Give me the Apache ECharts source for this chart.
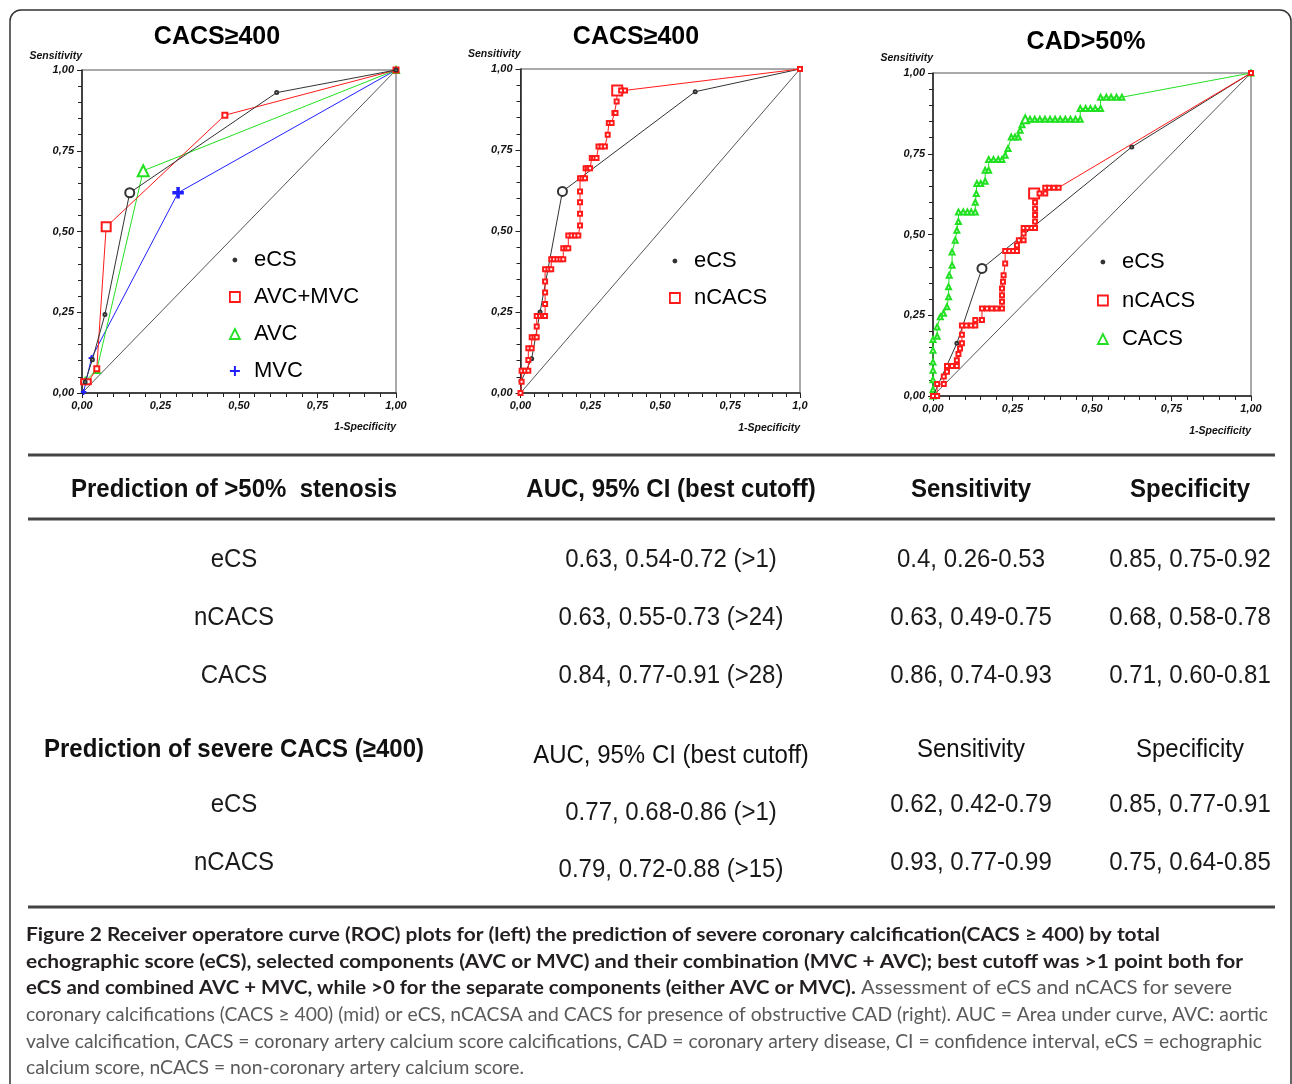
<!DOCTYPE html>
<html>
<head>
<meta charset="utf-8">
<title>ROC curves</title>
<script src="https://cdn.jsdelivr.net/npm/echarts@6.0.0/dist/echarts.min.js"></script>
<style>html,body{margin:0;padding:0;background:#fff;}#chart{width:1292px;height:1084px;}</style>
</head>
<body>
<div id="chart"></div>
<script>
// ---------------- data ----------------
const chartTitles = ['CACS≥400', 'CACS≥400', 'CAD>50%'];
const yAxisName = 'Sensitivity';
const xAxisName = '1-Specificity';
const tickLabels = ['0,00', '0,25', '0,50', '0,75', '1,00'];
const tickLabelsMidX = ['0,00', '0,25', '0,50', '0,75', '1,0'];
const diagonal = [[0, 0], [1, 1]];

// Left panel: severe CACS (>=400)
const leftECS = [[0.01, 0.034], [0.033, 0.103], [0.073, 0.243], [0.152, 0.62], [0.62, 0.93], [1, 1]];
const leftECSBest = 3;
const leftAVCMVC = [[0.005, 0.035], [0.02, 0.035], [0.047, 0.075], [0.077, 0.515], [0.1, 0.535], [0.455, 0.86], [1, 1]];
const leftAVCMVCBest = 3;
const leftAVCMVCBend = 4; // bend point drawn without a marker
const leftAVC = [[0.01, 0.037], [0.047, 0.071], [0.195, 0.688], [1, 1]];
const leftAVCBest = 2;
const leftMVC = [[0.005, 0.003], [0.03, 0.108], [0.306, 0.62], [1, 1]];
const leftMVCBest = 2;

// Middle panel: severe CACS (>=400)
const midECS = [[0.002, 0.036], [0.04, 0.106], [0.07, 0.25], [0.15, 0.622], [0.625, 0.93], [1, 1]];
const midECSBest = 3;
const midNCACS = [[0, 0], [0.004, 0.035], [0.004, 0.069], [0.016, 0.069], [0.028, 0.069], [0.028, 0.102],
  [0.028, 0.138], [0.04, 0.138], [0.04, 0.172], [0.05, 0.172], [0.058, 0.172], [0.058, 0.205], [0.058, 0.238],
  [0.07, 0.238], [0.08, 0.238], [0.088, 0.238], [0.088, 0.275], [0.088, 0.31], [0.088, 0.344], [0.088, 0.382],
  [0.1, 0.382], [0.11, 0.382], [0.11, 0.413], [0.12, 0.413], [0.132, 0.413], [0.143, 0.413], [0.153, 0.413],
  [0.153, 0.447], [0.163, 0.447], [0.171, 0.447], [0.171, 0.486], [0.183, 0.486], [0.195, 0.486], [0.207, 0.486],
  [0.213, 0.517], [0.213, 0.553], [0.213, 0.589], [0.213, 0.622], [0.213, 0.663], [0.222, 0.663], [0.231, 0.663],
  [0.233, 0.694], [0.241, 0.694], [0.249, 0.694], [0.255, 0.725], [0.263, 0.725], [0.272, 0.725], [0.279, 0.761],
  [0.29, 0.761], [0.302, 0.761], [0.312, 0.797], [0.316, 0.833], [0.326, 0.833], [0.336, 0.864], [0.34, 0.864],
  [0.344, 0.9], [0.346, 0.934], [0.36, 0.934], [0.374, 0.934], [1, 1]];
const midNCACSBest = 56;

// Right panel: CAD > 50%
const rightECS = [[0, 0], [0.075, 0.163], [0.154, 0.395], [0.625, 0.771], [1, 1]];
const rightECSBest = 2;
const rightNCACS = [[0, 0], [0.013, 0], [0.013, 0.037], [0.034, 0.037], [0.034, 0.06], [0.044, 0.075],
  [0.044, 0.093], [0.06, 0.093], [0.075, 0.093], [0.075, 0.111], [0.08, 0.13], [0.085, 0.147], [0.091, 0.163],
  [0.091, 0.19], [0.091, 0.218], [0.105, 0.218], [0.12, 0.218], [0.133, 0.218], [0.133, 0.235], [0.154, 0.235],
  [0.154, 0.271], [0.17, 0.271], [0.185, 0.271], [0.2, 0.271], [0.217, 0.271], [0.217, 0.292], [0.217, 0.312],
  [0.217, 0.333], [0.22, 0.354], [0.222, 0.374], [0.227, 0.41], [0.227, 0.449], [0.24, 0.449], [0.252, 0.449],
  [0.264, 0.449], [0.264, 0.467], [0.27, 0.482], [0.285, 0.482], [0.285, 0.503], [0.285, 0.52], [0.297, 0.52],
  [0.31, 0.52], [0.321, 0.52], [0.321, 0.54], [0.321, 0.56], [0.321, 0.58], [0.321, 0.6], [0.318, 0.627],
  [0.335, 0.627], [0.353, 0.627], [0.353, 0.645], [0.365, 0.645], [0.38, 0.645], [0.395, 0.645], [1, 1]];
const rightNCACSBest = 47;
const rightCACS = [[0, 0], [0, 0.02], [0, 0.05], [0, 0.08], [0, 0.105], [0, 0.142], [0, 0.175], [0.013, 0.185],
  [0.013, 0.214], [0.023, 0.245], [0.033, 0.256], [0.044, 0.276], [0.049, 0.307], [0.049, 0.338], [0.051, 0.374],
  [0.06, 0.405], [0.06, 0.446], [0.07, 0.482], [0.075, 0.513], [0.08, 0.54], [0.08, 0.57], [0.095, 0.57],
  [0.108, 0.57], [0.12, 0.57], [0.133, 0.57], [0.133, 0.6], [0.136, 0.627], [0.138, 0.658], [0.15, 0.658],
  [0.164, 0.665], [0.164, 0.699], [0.175, 0.699], [0.175, 0.732], [0.19, 0.732], [0.205, 0.732], [0.217, 0.732],
  [0.227, 0.745], [0.236, 0.766], [0.246, 0.802], [0.258, 0.802], [0.268, 0.802], [0.274, 0.823], [0.28, 0.84],
  [0.29, 0.857], [0.305, 0.857], [0.32, 0.857], [0.336, 0.857], [0.352, 0.857], [0.368, 0.857], [0.384, 0.857],
  [0.4, 0.857], [0.416, 0.857], [0.432, 0.857], [0.448, 0.857], [0.463, 0.857], [0.463, 0.89], [0.48, 0.89],
  [0.495, 0.89], [0.51, 0.89], [0.527, 0.89], [0.527, 0.925], [0.545, 0.925], [0.56, 0.925], [0.577, 0.925],
  [0.594, 0.925], [1, 1]];
const rightCACSBest = 43;

// Table
const tableHead1 = ['Prediction of >50%  stenosis', 'AUC, 95% CI (best cutoff)', 'Sensitivity', 'Specificity'];
const tableRows1 = [
  ['eCS', '0.63, 0.54-0.72 (>1)', '0.4, 0.26-0.53', '0.85, 0.75-0.92'],
  ['nCACS', '0.63, 0.55-0.73 (>24)', '0.63, 0.49-0.75', '0.68, 0.58-0.78'],
  ['CACS', '0.84, 0.77-0.91 (>28)', '0.86, 0.74-0.93', '0.71, 0.60-0.81']
];
const tableHead2 = ['Prediction of severe CACS (≥400)', 'AUC, 95% CI (best cutoff)', 'Sensitivity', 'Specificity'];
const tableRows2 = [
  ['eCS', '0.77, 0.68-0.86 (>1)', '0.62, 0.42-0.79', '0.85, 0.77-0.91'],
  ['nCACS', '0.79, 0.72-0.88 (>15)', '0.93, 0.77-0.99', '0.75, 0.64-0.85']
];

// Caption (segments: b = bold, r = regular)
const captionLines = [
  [['b', 'Figure 2 Receiver operatore curve (ROC) plots for (left) the prediction of severe coronary calcification(CACS ≥ 400) by total']],
  [['b', 'echographic score (eCS), selected components (AVC or MVC) and their combination (MVC + AVC); best cutoff was >1 point both for']],
  [['b', 'eCS and combined AVC + MVC, while >0 for the separate components (either AVC or MVC).'], ['r', ' Assessment of eCS and nCACS for severe']],
  [['r', 'coronary calcifications (CACS ≥ 400) (mid) or eCS, nCACSA and CACS for presence of obstructive CAD (right). AUC = Area under curve, AVC: aortic']],
  [['r', 'valve calcification, CACS = coronary artery calcium score calcifications, CAD = coronary artery disease, CI = confidence interval, eCS = echographic']],
  [['r', 'calcium score, nCACS = non-coronary artery calcium score.']]
];

// ---------------- layout / style ----------------
const grids = [
  { left: 82, top: 70, width: 314, height: 323 },
  { left: 520.5, top: 69, width: 279.5, height: 324 },
  { left: 933, top: 73, width: 318, height: 323 }
];
const C = {
  black: '#333333', red: '#ff1a1a', green: '#22e022', blue: '#2020ff', diag: '#555555'
};
const SYM_PLUS = 'path://M4,0H6V4H10V6H6V10H4V6H0V4H4Z';
const ICON = {
  dot: 'path://M0,0M10,10M2.5,5L3.2,3.2L5,2.5L6.8,3.2L7.5,5L6.8,6.8L5,7.5L3.2,6.8Z',
  square: 'path://M0,0H10V10H0Z',
  triangle: 'path://M5,0L10,10H0Z',
  plus: SYM_PLUS
};
const AX_FONT = 'Liberation Sans';

function axisCommon(labels, margin) {
  return {
    type: 'value', min: 0, max: 1, interval: 0.25,
    axisLine: { show: true, onZero: false, lineStyle: { color: '#222', width: 1.5 } },
    axisTick: { show: true, length: 5, lineStyle: { color: '#222', width: 1 } },
    minorTick: { show: true, splitNumber: 5, length: 4, lineStyle: { color: '#222', width: 1 } },
    splitLine: { show: false },
    minorSplitLine: { show: false },
    axisLabel: {
      margin: margin, fontSize: 11, fontStyle: 'italic', fontWeight: 'bold', fontFamily: AX_FONT, color: '#111',
      formatter: function (v) { return labels[Math.round(v * 4)]; }
    }
  };
}

function withBest(arr, best, bestSize, hidden) {
  return arr.map(function (p, i) {
    if (i === best) return { value: p, symbolSize: bestSize, itemStyle: { borderWidth: 1.5 } };
    if (i === hidden) return { value: p, symbol: 'none' };
    return p;
  });
}

function curve(name, gi, arr, best, color, symbol, size, bestSize, z, hidden) {
  return {
    type: 'line', name: name, xAxisIndex: gi, yAxisIndex: gi,
    data: withBest(arr, best, bestSize, hidden),
    symbol: symbol, symbolSize: size, showAllSymbol: true,
    lineStyle: { color: color, width: 1 },
    itemStyle: { color: color, borderColor: color, borderWidth: 1 },
    z: z, silent: true, animation: false
  };
}

function diagSeries(gi) {
  return {
    type: 'line', xAxisIndex: gi, yAxisIndex: gi, data: diagonal, symbol: 'none',
    lineStyle: { color: C.diag, width: 1 }, z: 1, silent: true, animation: false
  };
}

const series = [
  diagSeries(0),
  curve('MVC', 0, leftMVC, leftMVCBest, C.blue, SYM_PLUS, 5, 10, 3),
  curve('AVC', 0, leftAVC, leftAVCBest, C.green, 'emptyTriangle', 6, 11, 4),
  curve('AVC+MVC', 0, leftAVCMVC, leftAVCMVCBest, C.red, 'emptyRect', 5, 9, 5, leftAVCMVCBend),
  curve('eCS', 0, leftECS, leftECSBest, C.black, 'emptyCircle', 3, 9, 6),
  diagSeries(1),
  curve('eCS', 1, midECS, midECSBest, C.black, 'emptyCircle', 3, 9, 4),
  curve('nCACS', 1, midNCACS, midNCACSBest, C.red, 'emptyRect', 4, 10, 5),
  diagSeries(2),
  curve('eCS', 2, rightECS, rightECSBest, C.black, 'emptyCircle', 3, 9, 4),
  curve('nCACS', 2, rightNCACS, rightNCACSBest, C.red, 'emptyRect', 4, 10, 5),
  curve('CACS', 2, rightCACS, rightCACSBest, C.green, 'emptyTriangle', 5, 8, 3)
];

function legendItem(name, icon, color) {
  let st;
  if (icon === 'dot' || icon === 'plus') st = { color: color, borderWidth: 0 };
  else st = { color: '#ffffff', borderColor: color, borderWidth: 1.8 };
  return { name: name, icon: ICON[icon], itemStyle: st };
}
function legend(left, top, gap, items) {
  return {
    left: left, top: top, orient: 'vertical', itemWidth: 28, itemHeight: 10, itemGap: gap,
    selectedMode: false, padding: 0,
    textStyle: { fontSize: 22, lineHeight: 22, fontFamily: AX_FONT, color: '#000' },
    data: items
  };
}

const legends = [
  legend(229, 249, 15, [legendItem('eCS', 'dot', C.black), legendItem('AVC+MVC', 'square', C.red),
    legendItem('AVC', 'triangle', C.green), legendItem('MVC', 'plus', C.blue)]),
  legend(669, 250, 15, [legendItem('eCS', 'dot', C.black), legendItem('nCACS', 'square', C.red)]),
  legend(1097, 251, 16.5, [legendItem('eCS', 'dot', C.black), legendItem('nCACS', 'square', C.red),
    legendItem('CACS', 'triangle', C.green)])
];

// ---------------- graphic (texts, table, caption, frame) ----------------
const graphics = [];
function txt(x, y, text, opts) {
  const o = opts || {};
  const el = {
    type: 'text', x: x, y: y, silent: true,
    style: {
      text: text, x: 0, y: 0,
      fontSize: o.size || 24, fontFamily: o.family || AX_FONT,
      fontWeight: o.weight || 'normal', fontStyle: o.style || 'normal',
      fill: o.color || '#111', align: o.align || 'center', verticalAlign: 'middle'
    }
  };
  if (o.scaleX) el.scaleX = o.scaleX;
  if (o.scaleY) el.scaleY = o.scaleY;
  graphics.push(el);
}

// frame
graphics.push({
  type: 'rect', silent: true, z: -1,
  shape: { x: 10, y: 10, width: 1281, height: 1100, r: [11, 11, 0, 0] },
  style: { fill: 'none', stroke: '#333', lineWidth: 1.5 }
});

// chart titles and axis names
const titlePos = [[217, 37], [636, 37], [1086, 42]];
const yNamePos = [56.5, 54, 58];
const xNamePos = [427, 428, 431];
chartTitles.forEach(function (t, i) {
  txt(titlePos[i][0], titlePos[i][1], t, { size: 25, weight: 'bold', color: '#000' });
  const g = grids[i];
  txt(g.left, yNamePos[i], yAxisName, { size: 10.5, weight: 'bold', style: 'italic', align: 'right', color: '#111' });
  txt(g.left + g.width, xNamePos[i], xAxisName, { size: 10.5, weight: 'bold', style: 'italic', align: 'right', color: '#111' });
});

// table rules
[455, 519, 907].forEach(function (y) {
  graphics.push({ type: 'line', silent: true, shape: { x1: 28, y1: y, x2: 1275, y2: y }, style: { stroke: '#444', lineWidth: 3 } });
});

// table text
const colX = [234, 671, 971, 1190];
const tScaleY = 1.1;
tableHead1.forEach(function (t, c) { txt(colX[c], 490, t, { weight: 'bold', color: '#111', scaleY: tScaleY }); });
const rows1Y = [560, 618, 676];
tableRows1.forEach(function (row, r) {
  row.forEach(function (t, c) { txt(colX[c], rows1Y[r], t, { color: '#1a1a1a', scaleY: tScaleY }); });
});
const head2Y = [750, 756, 750, 750];
tableHead2.forEach(function (t, c) {
  txt(colX[c], head2Y[c], t, { weight: c === 0 ? 'bold' : 'normal', color: '#111', scaleY: tScaleY });
});
const rows2Y = [[805, 813, 805, 805], [863, 870, 863, 863]];
tableRows2.forEach(function (row, r) {
  row.forEach(function (t, c) { txt(colX[c], rows2Y[r][c], t, { color: '#1a1a1a', scaleY: tScaleY }); });
});

// caption, each line fitted to its width in the reference
const capLeft = 26;
const capRight = [1160, 1243, 1232, 1268, 1262, 524];
const capY = [935, 961.5, 988, 1015, 1041.5, 1068];
const CAP_FAMILY = 'Lato';
const CAP_SIZE = 19.5;
const measureCtx = document.createElement('canvas').getContext('2d');
function measure(t, bold) {
  measureCtx.font = (bold ? 'bold ' : '') + CAP_SIZE + 'px ' + CAP_FAMILY;
  return measureCtx.measureText(t).width;
}
captionLines.forEach(function (segs, i) {
  let natural = 0;
  segs.forEach(function (s) { natural += measure(s[1], s[0] === 'b'); });
  const sx = (capRight[i] - capLeft) / natural;
  const text = segs.map(function (s) { return '{' + s[0] + '|' + s[1] + '}'; }).join('');
  graphics.push({
    type: 'text', x: capLeft, y: capY[i], scaleX: sx, silent: true,
    style: {
      text: text, x: 0, y: 0, align: 'left', verticalAlign: 'middle',
      rich: {
        b: { fontFamily: CAP_FAMILY, fontWeight: 'bold', fontSize: CAP_SIZE, fill: '#231f20' },
        r: { fontFamily: CAP_FAMILY, fontWeight: 'normal', fontSize: CAP_SIZE, fill: '#5a5a5c' }
      }
    }
  });
});

// ---------------- option ----------------
const option = {
  backgroundColor: '#ffffff',
  animation: false,
  grid: grids.map(function (g) {
    return Object.assign({ show: true, borderColor: '#555', borderWidth: 1, outerBoundsMode: 'none', containLabel: false }, g);
  }),
  xAxis: [
    Object.assign({ gridIndex: 0 }, axisCommon(tickLabels, 7)),
    Object.assign({ gridIndex: 1 }, axisCommon(tickLabelsMidX, 7)),
    Object.assign({ gridIndex: 2 }, axisCommon(tickLabels, 7))
  ],
  yAxis: [
    Object.assign({ gridIndex: 0 }, axisCommon(tickLabels, 8)),
    Object.assign({ gridIndex: 1 }, axisCommon(tickLabels, 8)),
    Object.assign({ gridIndex: 2 }, axisCommon(tickLabels, 8))
  ],
  legend: legends,
  series: series,
  graphic: { elements: graphics }
};

const chart = echarts.init(document.getElementById('chart'), null, { renderer: 'canvas' });
chart.setOption(option);
</script>
</body>
</html>
